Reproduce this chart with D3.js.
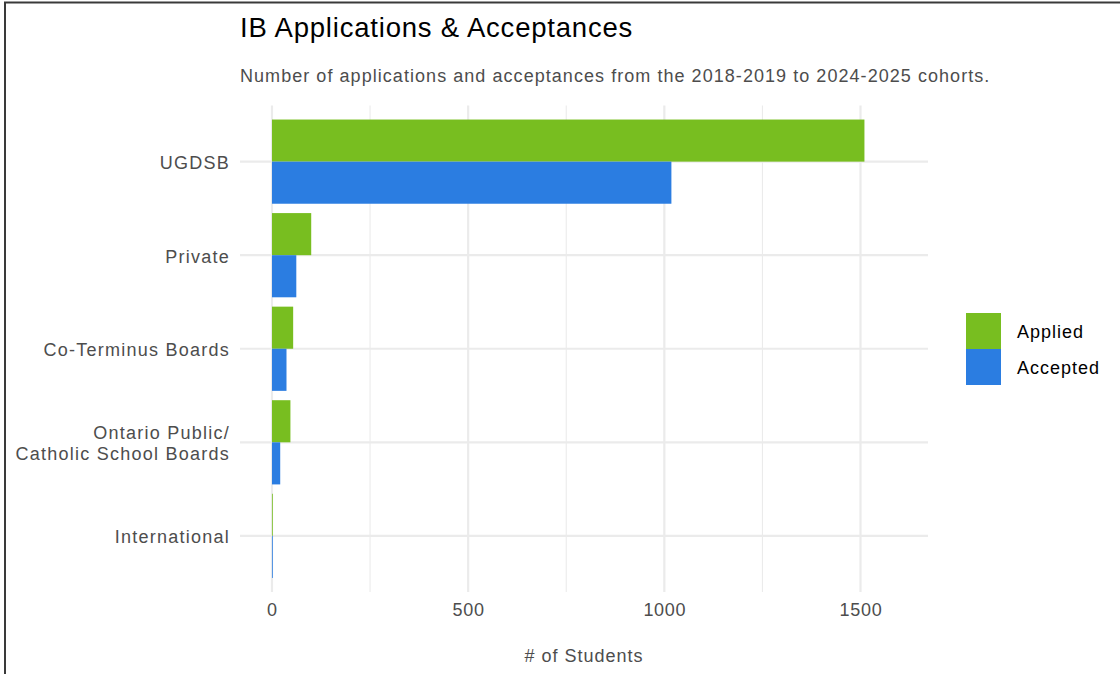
<!DOCTYPE html>
<html>
<head>
<meta charset="utf-8">
<script src="https://cdn.jsdelivr.net/npm/d3@7"></script>
<style>
  html, body { margin: 0; padding: 0; background: #fff; }
  svg { display: block; font-family: "Liberation Sans", Arial, sans-serif; }
</style>
</head>
<body>
<svg id="chart" width="1120" height="674"></svg>
<script>
const categories = ["UGDSB", "Private", "Co-Terminus Boards", "Ontario Public/\nCatholic School Boards", "International"];
const seriesNames = ["Applied", "Accepted"];
const applied = [1510, 100, 54, 47, 2];
const accepted = [1018, 62, 37, 21, 2];
const xTicks = [0, 500, 1000, 1500];
const xMinorTicks = [250, 750, 1250];
const colors = ["#78BE20", "#2B7DE1"];

const svg = d3.select("#chart");
const panel = { left: 240, right: 928, top: 105.5, bottom: 592 };
const FS = "18px", LS = "1px";

// frame border
svg.append("rect").attr("x", 5).attr("y", 2.5).attr("width", 1130).attr("height", 690)
  .attr("fill", "none").attr("stroke", "#3a3a3a").attr("stroke-width", 2);

const x = d3.scaleLinear().domain([-81.5, 1672]).range([panel.left, panel.right]);
const y = d3.scalePoint().domain(categories).range([panel.top, panel.bottom]).padding(0.6);
const step = y.step();
const barH = step * 0.45;

const g = svg.append("g");

// minor grid
g.selectAll(".minor").data(xMinorTicks).join("line")
  .attr("x1", d => x(d)).attr("x2", d => x(d))
  .attr("y1", panel.top).attr("y2", panel.bottom)
  .attr("stroke", "#ebebeb").attr("stroke-width", 1.1);
// major grid vertical
g.selectAll(".majorx").data(xTicks).join("line")
  .attr("x1", d => x(d)).attr("x2", d => x(d))
  .attr("y1", panel.top).attr("y2", panel.bottom)
  .attr("stroke", "#ebebeb").attr("stroke-width", 2.2);
// major grid horizontal
g.selectAll(".majory").data(categories).join("line")
  .attr("x1", panel.left).attr("x2", panel.right)
  .attr("y1", d => y(d)).attr("y2", d => y(d))
  .attr("stroke", "#ebebeb").attr("stroke-width", 2.2);

// bars
const rows = categories.map((c, i) => ({ c, values: [applied[i], accepted[i]] }));
rows.forEach(r => {
  r.values.forEach((v, k) => {
    g.append("rect")
      .attr("x", x(0))
      .attr("y", y(r.c) - barH + k * barH)
      .attr("width", x(v) - x(0))
      .attr("height", barH)
      .attr("fill", colors[k]);
  });
});

// x axis
const xAxis = d3.axisBottom(x).tickValues(xTicks).tickSize(0).tickPadding(0).tickFormat(d3.format("d"));
const xa = svg.append("g").attr("transform", `translate(0, ${panel.bottom})`).call(xAxis);
xa.select(".domain").remove();
xa.selectAll("text").attr("dy", null).attr("y", 24).attr("fill", "#4d4d4d")
  .style("font-size", FS).style("letter-spacing", "0.7px")
  .style("font-family", "Liberation Sans, Arial, sans-serif");

// y axis
const yAxis = d3.axisLeft(y).tickSize(0).tickPadding(0).tickFormat("");
const ya = svg.append("g").attr("transform", `translate(${panel.left}, 0)`).call(yAxis);
ya.select(".domain").remove();
ya.selectAll(".tick").each(function(d) {
  const lines = d.split("\n");
  const t = d3.select(this).append("text")
    .attr("text-anchor", "end").attr("fill", "#4d4d4d")
    .style("font-size", FS).style("letter-spacing", "1.25px");
  const lh = 21;
  lines.forEach((ln, i) => {
    t.append("tspan").attr("x", -10)
      .attr("y", (i - (lines.length - 1) / 2) * lh + 7)
      .text(ln);
  });
});

// axis title
svg.append("text").attr("x", (panel.left + panel.right) / 2).attr("y", 662)
  .attr("text-anchor", "middle").attr("fill", "#4d4d4d")
  .style("font-size", FS).style("letter-spacing", LS)
  .text("# of Students");

// title & subtitle
svg.append("text").attr("x", 240).attr("y", 37).attr("fill", "#000")
  .style("font-size", "27.5px").style("letter-spacing", "0.8px")
  .text("IB Applications & Acceptances");
svg.append("text").attr("x", 240).attr("y", 82).attr("fill", "#4d4d4d")
  .style("font-size", FS).style("letter-spacing", "1.05px")
  .text("Number of applications and acceptances from the 2018-2019 to 2024-2025 cohorts.");

// legend
const lg = svg.append("g");
seriesNames.forEach((s, i) => {
  lg.append("rect").attr("x", 966).attr("y", 313 + i * 36).attr("width", 35).attr("height", 36)
    .attr("fill", colors[i]);
  lg.append("text").attr("x", 1017).attr("y", 313 + i * 36 + 18 + 7).attr("fill", "#000")
    .style("font-size", FS).style("letter-spacing", LS).text(s);
});
</script>
</body>
</html>
